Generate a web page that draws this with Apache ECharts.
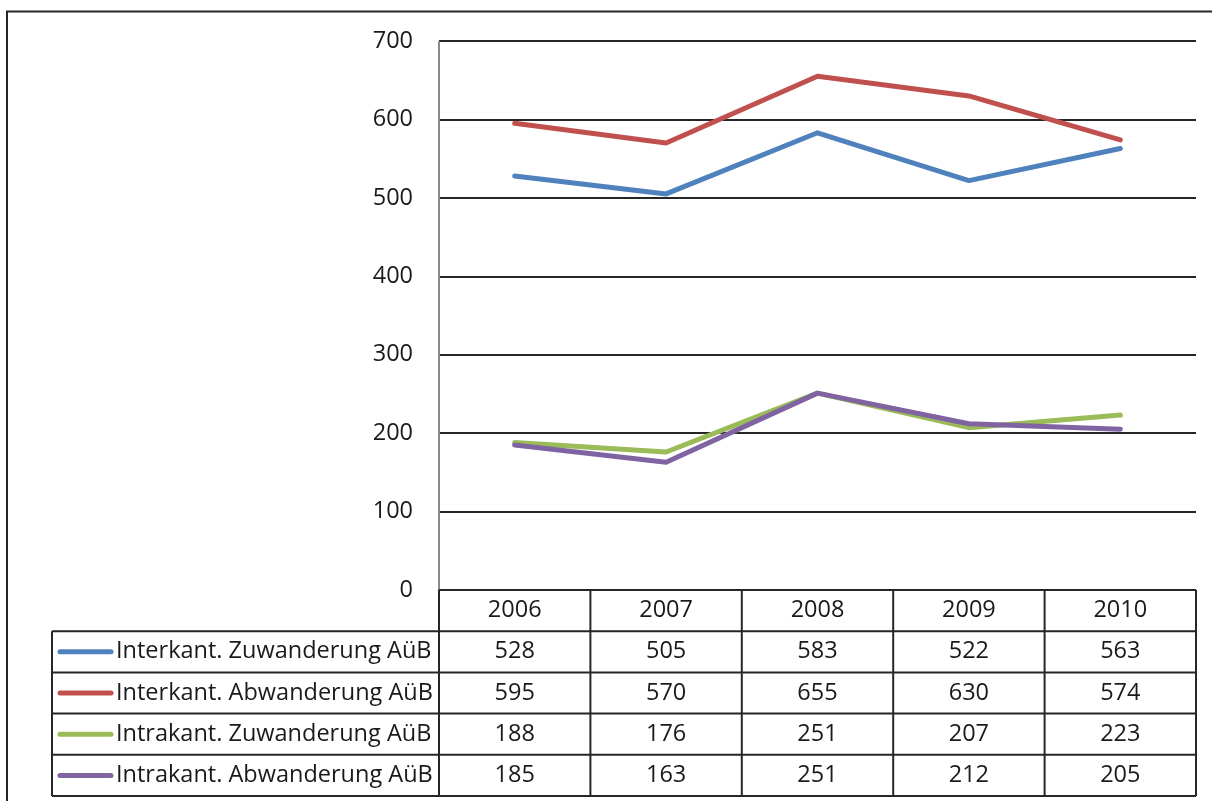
<!DOCTYPE html>
<html>
<head>
<meta charset="utf-8">
<script src="https://cdn.jsdelivr.net/npm/echarts@6/dist/echarts.min.js"></script>
<style>
html,body{margin:0;padding:0;background:#fff;}
#chart{width:1212px;height:801px;}
</style>
</head>
<body>
<div id="chart"></div>
<script>
const years = ['2006', '2007', '2008', '2009', '2010'];
const seriesNames = [
  'Interkant. Zuwanderung AüB',
  'Interkant. Abwanderung AüB',
  'Intrakant. Zuwanderung AüB',
  'Intrakant. Abwanderung AüB'
];
const interZu = [528, 505, 583, 522, 563];
const interAb = [595, 570, 655, 630, 574];
const intraZu = [188, 176, 251, 207, 223];
const intraAb = [185, 163, 251, 212, 205];
const yTicks = [0, 100, 200, 300, 400, 500, 600, 700];

const seriesData = [interZu, interAb, intraZu, intraAb];
const colors = ['#4F81BD', '#C0504D', '#9BBB59', '#8064A2'];

const FONT = '"Open Sans", sans-serif';
const FS = 23.5;
const TXT = '#1a1a1a';
const W = 1212, H = 801;
const gridL = 439, gridR = 1196, gridT = 41, gridB = 590;
const rowH = 41.2;
const legendL = 52;
const lineC = '#262626';

const chart = echarts.init(document.getElementById('chart'), null, {renderer: 'canvas'});

const graphics = [];
graphics.push({type: 'polyline', shape: {points: [[7, H], [7, 11.5], [W, 11.5]]}, style: {stroke: lineC, lineWidth: 2, fill: null}, silent: true});
graphics.push({type: 'line', shape: {x1: gridL, y1: gridT, x2: gridL, y2: gridB}, style: {stroke: '#8a8a8a', lineWidth: 2}, z: 5});

const colW = (gridR - gridL) / years.length;
const tableBottom = gridB + rowH * (seriesNames.length + 1);
graphics.push({type: 'line', shape: {x1: gridL, y1: gridB, x2: gridR, y2: gridB}, style: {stroke: lineC, lineWidth: 2}, z: 6});
for (let r = 1; r <= seriesNames.length + 1; r++) {
  const y = gridB + rowH * r;
  graphics.push({type: 'line', shape: {x1: legendL, y1: y, x2: gridR, y2: y}, style: {stroke: lineC, lineWidth: 2}, z: 6});
}
graphics.push({type: 'line', shape: {x1: legendL, y1: gridB + rowH, x2: legendL, y2: tableBottom}, style: {stroke: lineC, lineWidth: 2}, z: 6});
for (let c = 0; c <= years.length; c++) {
  const x = gridL + colW * c;
  graphics.push({type: 'line', shape: {x1: x, y1: gridB, x2: x, y2: tableBottom}, style: {stroke: lineC, lineWidth: 2}, z: 6});
}
seriesNames.forEach((name, i) => {
  const cy = gridB + rowH * (i + 1) + rowH / 2;
  graphics.push({type: 'line', shape: {x1: 60, y1: cy, x2: 111, y2: cy}, style: {stroke: colors[i], lineWidth: 5, lineCap: 'round'}, z: 6});
  graphics.push({type: 'text', x: 116, y: cy, style: {text: name, font: FS + 'px ' + FONT, fill: TXT, textVerticalAlign: 'middle', textAlign: 'left'}, z: 6});
  seriesData[i].forEach((v, j) => {
    graphics.push({type: 'text', x: gridL + colW * (j + 0.5), y: cy, style: {text: String(v), font: FS + 'px ' + FONT, fill: TXT, textVerticalAlign: 'middle', textAlign: 'center'}, z: 6});
  });
});

const option = {
  backgroundColor: '#fff',
  animation: false,
  grid: {left: gridL, right: W - gridR, top: gridT, bottom: H - gridB, containLabel: false},
  xAxis: {
    type: 'category',
    data: years,
    boundaryGap: true,
    axisLine: {show: false},
    axisTick: {show: false},
    axisLabel: {fontFamily: FONT, fontSize: FS, color: TXT, margin: 20, verticalAlign: 'middle'}
  },
  yAxis: {
    type: 'value',
    min: 0, max: 700, interval: 100,
    axisLine: {show: false},
    axisTick: {show: false},
    axisLabel: {fontFamily: FONT, fontSize: FS, color: TXT, margin: 26},
    splitLine: {lineStyle: {color: lineC, width: 2}}
  },
  series: seriesNames.map((n, i) => ({
    name: n,
    type: 'line',
    data: seriesData[i],
    symbol: 'none',
    lineStyle: {color: colors[i], width: 5, cap: 'round', join: 'round'},
    itemStyle: {color: colors[i]},
    z: 3 + i
  })),
  graphic: graphics
};
chart.setOption(option);
</script>
</body>
</html>
